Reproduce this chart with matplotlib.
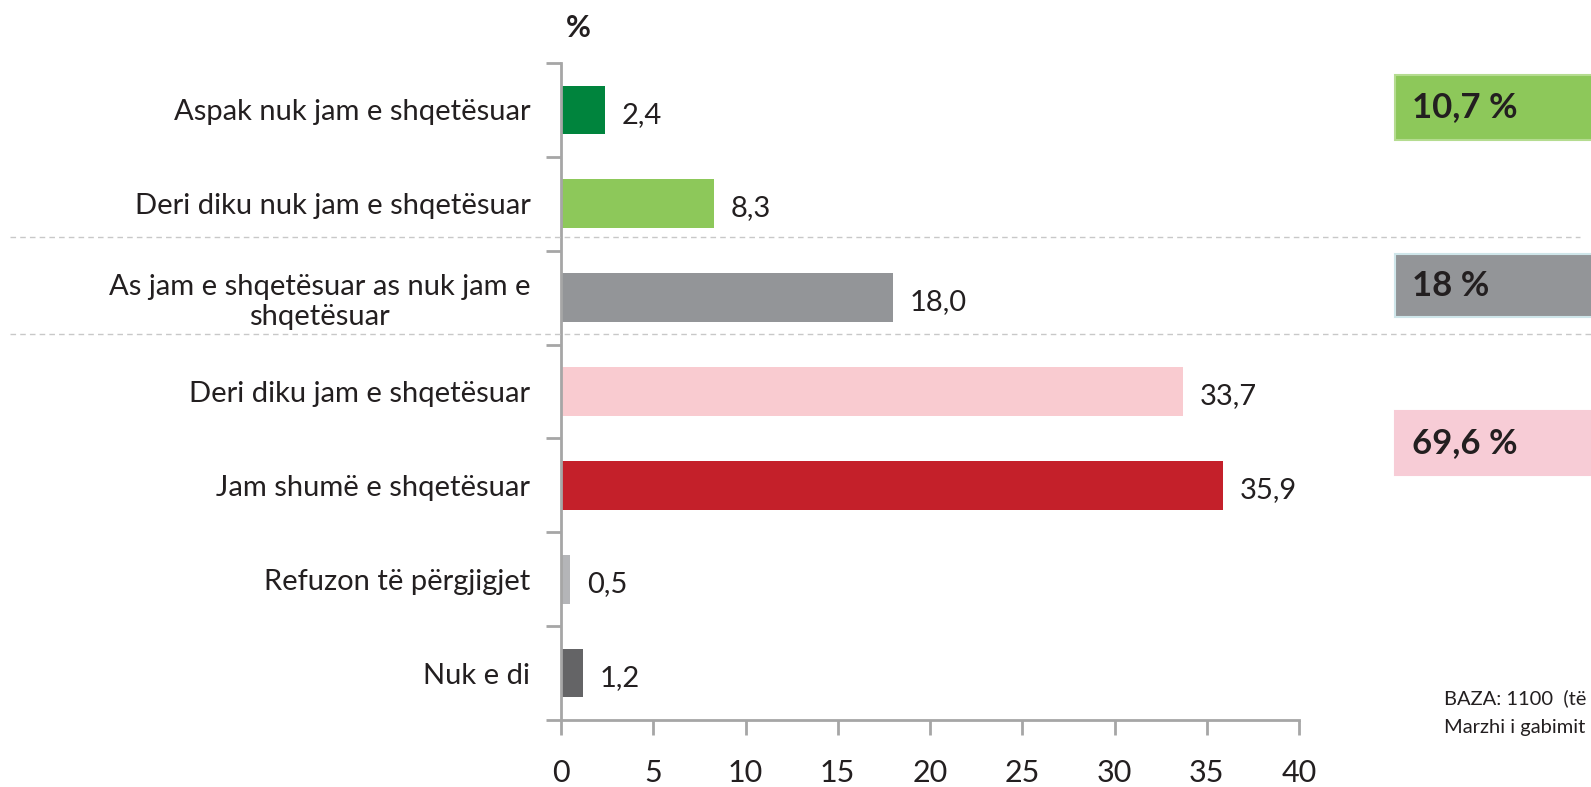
import numpy as np
import matplotlib
matplotlib.use('Agg')
import matplotlib.pyplot as plt
from matplotlib.lines import Line2D
from matplotlib.patches import Rectangle

plt.rcParams['font.family'] = ['Lato', 'DejaVu Sans']

# data
categories = ['Aspak nuk jam e shqetësuar',
              'Deri diku nuk jam e shqetësuar',
              'As jam e shqetësuar as nuk jam e\nshqetësuar',
              'Deri diku jam e shqetësuar',
              'Jam shumë e shqetësuar',
              'Refuzon të përgjigjet',
              'Nuk e di']
values = [2.4, 8.3, 18.0, 33.7, 35.9, 0.5, 1.2]
bar_colors = ['#00843D', '#8DC85A', '#939598', '#F9CBD0', '#C4202A', '#B4B5B8', '#646466']
value_labels = ['2,4', '8,3', '18,0', '33,7', '35,9', '0,5', '1,2']
xticks = [0, 5, 10, 15, 20, 25, 30, 35, 40]

summary_labels = ['10,7 %', '18 %', '69,6 %']
summary_colors = ['#8DC85A', '#939598', '#F7CCD6']
summary_edges = ['#B5DC90', '#CFE6EA', '#F7CCD6']
# box top/bottom in pixels from top of figure
summary_boxes = [(75, 140), (254, 317), (411, 475)]

note_lines = ['BAZA: 1100  (të anketuarat)', 'Marzhi i gabimit ±3%']

W, H = 1591, 787
fig = plt.figure(figsize=(W / 100, H / 100), dpi=100)
ax = fig.add_axes([561 / W, 1 - 720 / H, (1299 - 561) / W, (720 - 63) / H])

y = np.arange(len(categories))
ax.barh(y, values, height=0.52, color=bar_colors, zorder=2)
for yi, v, lab in zip(y, values, value_labels):
    ax.text(v + 0.9, yi + 0.05, lab, va='center', ha='left', fontsize=21, color='#231F20')

ax.set_xlim(0, 40)
ax.set_ylim(6.5, -0.5)
ax.set_xticks(xticks)
ax.set_xticklabels([str(t) for t in xticks], fontsize=22, color='#231F20')
ax.tick_params(axis='x', length=11, width=2, color='#A6A6A6', pad=17)

ax.set_yticks(y)
ax.set_yticklabels(categories, fontsize=21, color='#231F20', multialignment='center')
ax.tick_params(axis='y', which='major', length=0, pad=22)
ax.set_yticks(np.arange(-0.5, 7.0, 1.0), minor=True)
ax.tick_params(axis='y', which='minor', length=11, width=2, color='#A6A6A6')

for s in ['top', 'right']:
    ax.spines[s].set_visible(False)
for s in ['left', 'bottom']:
    ax.spines[s].set_color('#A6A6A6')
    ax.spines[s].set_linewidth(2)

fig.text(578 / W, 1 - 28 / H, '%', fontsize=22, fontweight='bold', ha='center', va='center', color='#231F20')

# dashed separators
fig.add_artist(Line2D([10 / W, 1580 / W], [1 - 237 / H] * 2, color='#C8C8C8', lw=1, ls=(0, (4, 3))))
fig.add_artist(Line2D([10 / W, 1.0], [1 - 334 / H] * 2, color='#C8C8C8', lw=1, ls=(0, (4, 3))))

# summary boxes on the right
for lab, fc, ec, (top, bot) in zip(summary_labels, summary_colors, summary_edges, summary_boxes):
    fig.add_artist(Rectangle((1395 / W, 1 - bot / H), (W - 1395) / W + 0.01, (bot - top) / H,
                             facecolor=fc, edgecolor=ec, lw=1.5, transform=fig.transFigure))
    fig.text(1412 / W, 1 - (top + bot) / 2 / H, lab, fontsize=25, fontweight='bold',
             ha='left', va='center', color='#231F20')

for i, line in enumerate(note_lines):
    fig.text(1444 / W, 1 - (698 + 29 * i) / H, line, fontsize=14.5, ha='left', va='center', color='#231F20')

fig.savefig('out.png', dpi=100)
